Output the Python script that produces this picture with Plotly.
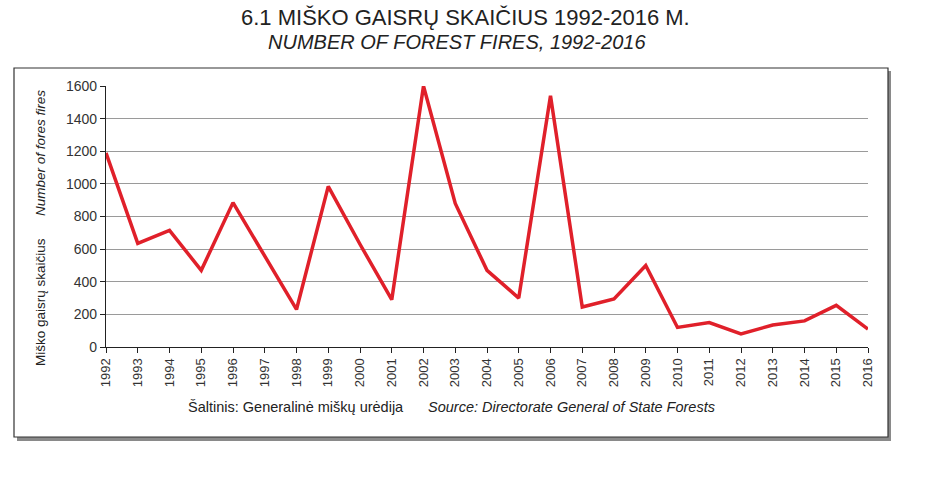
import plotly.graph_objects as go

years = list(range(1992, 2017))
fires = [1190, 635, 715, 470, 885, 560, 230, 985, 630, 290, 1600, 880, 470, 300,
         1540, 245, 295, 500, 120, 150, 80, 135, 160, 255, 110]
y_ticks = [0, 200, 400, 600, 800, 1000, 1200, 1400, 1600]

title_lt = "6.1 MIŠKO GAISRŲ SKAIČIUS 1992-2016 M."
title_en = "NUMBER OF FOREST FIRES, 1992-2016"
ytitle_lt = "Miško gaisrų skaičius"
ytitle_en = "Number of fores fires"
source_lt = "Šaltinis: Generalinė miškų urėdija"
source_en = "Source: Directorate General of State Forests"

FONT = "Liberation Sans, Arial, sans-serif"
W, H = 925, 478
L, R, T, B = 106, 57, 86, 131
pw, ph = W - L - R, H - T - B

def px(x):
    return (x - L) / pw

def py(y):
    return (H - B - y) / ph

fig = go.Figure()
fig.add_trace(go.Scatter(x=years, y=fires, mode="lines",
                         line=dict(color="#e0202a", width=3.5), showlegend=False))

shapes = [
    dict(type="rect", xref="paper", yref="paper", x0=px(17), x1=px(891), y0=py(441), y1=py(71),
         fillcolor="#8a8a8a", line=dict(width=0), layer="below"),
    dict(type="rect", xref="paper", yref="paper", x0=px(14), x1=px(888), y0=py(437), y1=py(68),
         fillcolor="white", line=dict(color="#333333", width=1.2), layer="below"),
]

annotations = [
    dict(text=title_lt, x=px(465), xref="paper", xanchor="center", y=py(17), yref="paper", yanchor="middle",
         showarrow=False, font=dict(family=FONT, size=22, color="#222")),
    dict(text="<i>" + title_en + "</i>", x=px(457), xref="paper", xanchor="center", y=py(42), yref="paper",
         yanchor="middle", showarrow=False, font=dict(family=FONT, size=20, color="#222")),
    dict(text=ytitle_lt + "      <i>" + ytitle_en + "</i>", x=px(41), xref="paper", xanchor="center",
         y=py(228), yref="paper", yanchor="middle", textangle=-90, showarrow=False,
         font=dict(family=FONT, size=13.5, color="#222")),
    dict(text=source_lt, x=px(186), xref="paper", xanchor="left", y=py(407), yref="paper", yanchor="middle",
         showarrow=False, font=dict(family=FONT, size=14.5, color="#222")),
    dict(text="<i>" + source_en + "</i>", x=px(426), xref="paper", xanchor="left", y=py(407), yref="paper",
         yanchor="middle", showarrow=False, font=dict(family=FONT, size=14.5, color="#222")),
]

fig.update_layout(
    width=W, height=H,
    margin=dict(l=L, r=R, t=T, b=B, pad=0),
    paper_bgcolor="white", plot_bgcolor="white",
    font=dict(family=FONT, size=13, color="#333"),
    shapes=shapes, annotations=annotations,
    xaxis=dict(range=[1992, 2016], tickmode="array", tickvals=years, ticktext=[str(y) for y in years],
               tickangle=-90, showgrid=False, showline=True, linecolor="#222", linewidth=1.2,
               ticks="outside", ticklen=5, tickcolor="#222", tickfont=dict(size=13, color="#333"),
               zeroline=False, fixedrange=True),
    yaxis=dict(range=[0, 1600], tickmode="array", tickvals=y_ticks, showgrid=True, gridcolor="#9a9a9a",
               gridwidth=1.3, showline=True, linecolor="#222", linewidth=1.2, ticks="outside", ticklen=5,
               tickcolor="#222", tickfont=dict(size=14, color="#333"), zeroline=False, fixedrange=True),
)

fig.write_html("out.html")
